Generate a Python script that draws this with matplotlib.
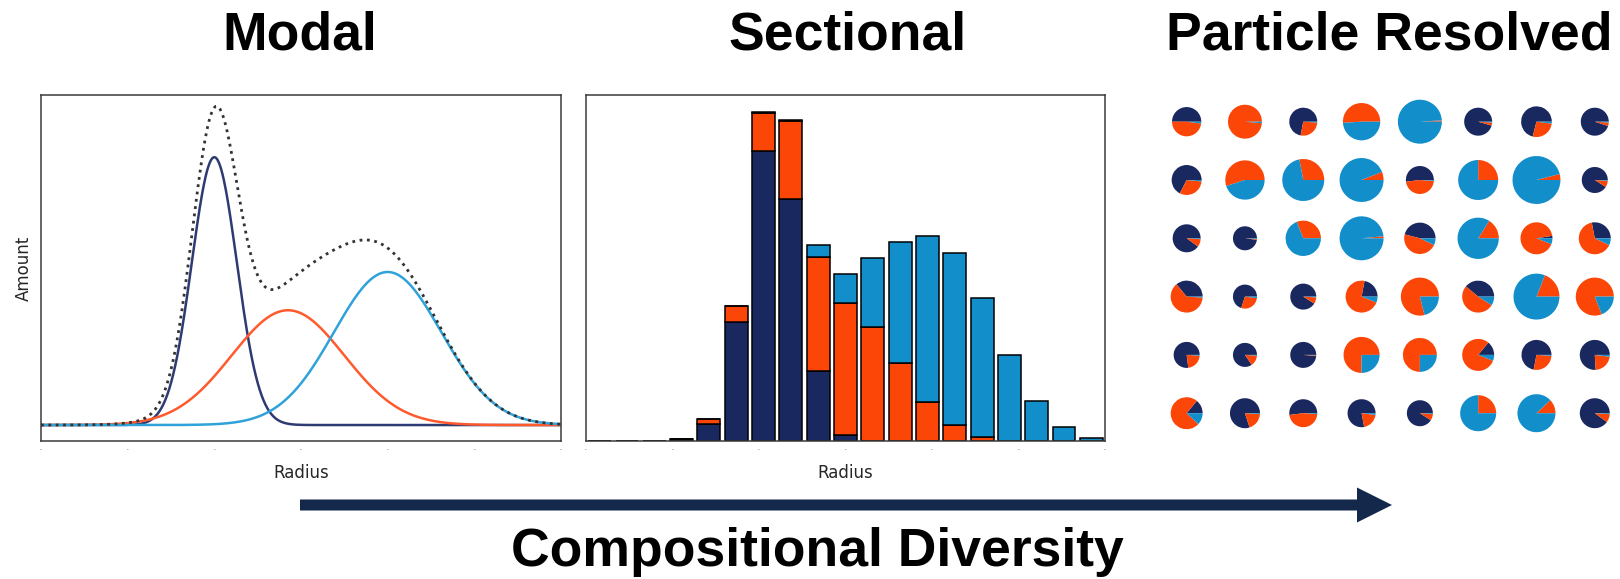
import numpy as np
import matplotlib
matplotlib.use('Agg')
import matplotlib.pyplot as plt
from matplotlib.patches import FancyArrow

NAVY = '#1a2860'
ORANGE = '#fc4608'
BLUE = '#128ecb'
LINE_NAVY = '#2e3b72'
LINE_ORANGE = '#ff5a2e'
LINE_BLUE = '#2fa2da'

# modal panel: three modes (centre, width, peak height)
mode_centers = [2.0, 2.85, 4.0]
mode_widths = [0.26, 0.65, 0.62]
mode_heights = [805, 345, 460]
mode_colors = [LINE_NAVY, LINE_ORANGE, LINE_BLUE]

# sectional panel: stacked bin amounts
bin_dark = [0, 0, 0, 5, 51, 359, 871, 728, 210, 19, 0, 0, 0, 0, 0, 0, 0, 0, 0]
bin_orange = [0, 0, 0, 0, 15, 47, 115, 235, 343, 397, 343, 233, 118, 47, 13, 0, 0, 0, 0]
bin_blue = [0, 0, 0, 0, 0, 0, 3, 3, 36, 87, 207, 364, 499, 517, 417, 258, 119, 42, 8]

# particle resolved panel: pie radius (grid units) and (navy, orange, blue) fractions
pie_radius = [
    [.251, .291, .240, .320, .377, .240, .263, .240],
    [.257, .337, .360, .377, .240, .343, .411, .223],
    [.240, .206, .303, .377, .269, .354, .274, .274],
    [.274, .206, .223, .274, .326, .274, .394, .326],
    [.223, .206, .223, .309, .291, .274, .257, .257],
    [.274, .257, .240, .240, .223, .309, .326, .257],
]
pie_frac = [
    [(0.5, 0.48, 0.02), (0, 0.985, 0.015), (0.72, 0.27, 0.01), (0, 0.51, 0.49),
     (0, 0.01, 0.99), (0.955, 0.035, 0.01), (0.71, 0.27, 0.02), (0.95, 0.04, 0.01)],
    [(0.675, 0.31, 0.015), (0, 0.55, 0.45), (0, 0.28, 0.72), (0, 0.06, 0.94),
     (0.52, 0.47, 0.01), (0, 0.25, 0.75), (0, 0.04, 0.96), (0.91, 0.08, 0.01)],
    [(0.9, 0.09, 0.01), (0.98, 0.01, 0.01), (0, 0.31, 0.69), (0, 0.015, 0.985),
     (0.46, 0.47, 0.07), (0, 0.16, 0.84), (0.025, 0.915, 0.06), (0.28, 0.65, 0.07)],
    [(0.36, 0.63, 0.01), (0.7, 0.28, 0.02), (0.91, 0.08, 0.01), (0.22, 0.72, 0.06),
     (0, 0.79, 0.21), (0.39, 0.52, 0.09), (0, 0.19, 0.81), (0, 0.81, 0.19)],
    [(0.77, 0.22, 0.01), (0.845, 0.145, 0.01), (0.985, 0.01, 0.005), (0, 0.75, 0.25),
     (0, 0.75, 0.25), (0.14, 0.8, 0.06), (0.72, 0.27, 0.01), (0.76, 0.22, 0.02)],
    [(0.14, 0.74, 0.12), (0.8, 0.19, 0.01), (0.52, 0.47, 0.01), (0.78, 0.2, 0.02),
     (0.91, 0.08, 0.01), (0, 0.25, 0.75), (0, 0.12, 0.88), (0.9, 0.09, 0.01)],
]

titles = ['Modal', 'Sectional', 'Particle Resolved']
bottom_label = 'Compositional Diversity'

W, H = 1620, 579
fig = plt.figure(figsize=(W / 100, H / 100), dpi=100)


def px_axes(left, top, right, bottom):
    return fig.add_axes([left / W, 1 - bottom / H, (right - left) / W, (bottom - top) / H])


def style_frame(ax, xmax):
    for s in ax.spines.values():
        s.set_color('#3a3a3a')
        s.set_linewidth(1.1)
    ax.set_xticks(np.linspace(0, xmax, 7))
    ax.set_xticklabels(['.'] * 7, fontsize=8, color='#8a8a8a')
    ax.tick_params(axis='x', length=0, pad=0.5)
    ax.set_yticks([])
    ax.set_xlabel('Radius', fontsize=12, color='#262626', labelpad=9)


# --- modal
ax1 = px_axes(41, 95, 561, 441)
x = np.linspace(0, 6, 800)
total = np.zeros_like(x)
for c, w, h, col in zip(mode_centers, mode_widths, mode_heights, mode_colors):
    y = h * np.exp(-0.5 * ((x - c) / w) ** 2)
    total += y
    ax1.plot(x, y, color=col, lw=1.8)
ax1.plot(x, total, color='#333333', lw=2.0, ls=':')
ax1.set_xlim(0, 6)
ax1.set_ylim(-48, 992)
style_frame(ax1, 6)
ax1.set_ylabel('Amount', fontsize=12, color='#262626', labelpad=6)

# --- sectional
ax2 = px_axes(586, 95, 1105, 441)
pos = np.arange(len(bin_dark)) + 0.5
dark = np.array(bin_dark)
orng = np.array(bin_orange)
blue = np.array(bin_blue)
kw = dict(width=0.84, edgecolor='black', linewidth=1.1)
ax2.bar(pos, dark, color=NAVY, **kw)
ax2.bar(pos, orng, bottom=dark, color=ORANGE, **kw)
ax2.bar(pos, blue, bottom=dark + orng, color=BLUE, **kw)
ax2.set_xlim(0, 19)
ax2.set_ylim(0, 1040)
style_frame(ax2, 19)

# --- particle resolved
ax3 = px_axes(1157.5, 86.7, 1618.1, 448.2)
for r, (row_r, row_f) in enumerate(zip(pie_radius, pie_frac)):
    for c, (rad, fr) in enumerate(zip(row_r, row_f)):
        ax3.pie(fr, colors=[NAVY, ORANGE, BLUE], startangle=0, counterclock=True,
                radius=rad, center=(c, -r), wedgeprops=dict(linewidth=0))
ax3.set_xlim(-0.5, 7.4)
ax3.set_ylim(-5.6, 0.6)
ax3.set_aspect('equal')
ax3.axis('off')

# --- titles and arrow
tfont = dict(family='Liberation Sans', weight='bold', fontsize=38.5, color='black')
for t, cx in zip(titles, [300, 848, 1389]):
    fig.text(cx / W, 1 - 49 / H, t, ha='center', va='baseline', **tfont)
fig.text(817 / W, 1 - 566 / H, bottom_label, ha='center', va='baseline', **tfont)

over = fig.add_axes([0, 0, 1, 1])
over.set_xlim(0, W)
over.set_ylim(H, 0)
over.axis('off')
over.add_patch(FancyArrow(300, 505, 1092, 0, width=11, head_width=35, head_length=35,
                          length_includes_head=True, color='#13284a', lw=0))

fig.savefig('out.png', dpi=100)
